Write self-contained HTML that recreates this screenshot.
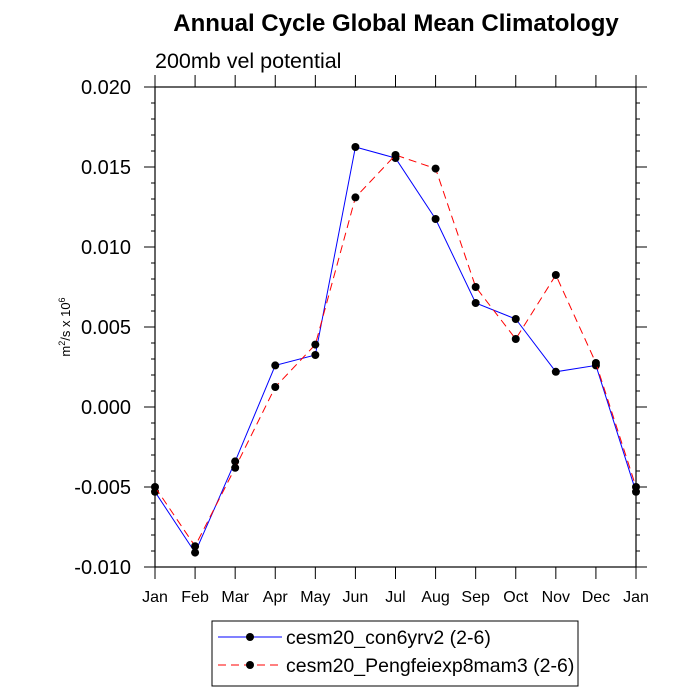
<!DOCTYPE html>
<html><head><meta charset="utf-8"><style>body{margin:0;background:#fff}svg{display:block;font-family:"Liberation Sans",sans-serif}</style></head>
<body>
<svg id="c" width="700" height="700">
<text x="396" y="31" text-anchor="middle" font-size="24" font-weight="bold">Annual Cycle Global Mean Climatology</text>
<text x="155" y="68" font-size="21.5">200mb vel potential</text>
<text transform="translate(70,327) rotate(-90)" text-anchor="middle" font-size="13">m<tspan dy="-5" font-size="9">2</tspan><tspan dy="5">/s x 10</tspan><tspan dy="-5" font-size="9">6</tspan></text>
<g id="axes"></g><g id="series"></g>
<g>
<rect x="212" y="621" width="366" height="65" fill="none" stroke="#000" stroke-width="1"/>
<line x1="218" y1="637" x2="282" y2="637" stroke="#00f" stroke-width="1"/><circle cx="250" cy="637" r="4"/>
<text x="286" y="644" font-size="19.5">cesm20_con6yrv2 (2-6)</text>
<line x1="218" y1="665" x2="282" y2="665" stroke="#f00" stroke-width="1" stroke-dasharray="8,5"/><circle cx="250" cy="665" r="4"/>
<text x="286" y="672" font-size="19.5">cesm20_Pengfeiexp8mam3 (2-6)</text>
</g>
</svg>
<script>
const months=["Jan","Feb","Mar","Apr","May","Jun","Jul","Aug","Sep","Oct","Nov","Dec","Jan"];
const yTicks=[-0.010,-0.005,0.000,0.005,0.010,0.015,0.020];
const yTickLabels=["-0.010","-0.005","0.000","0.005","0.010","0.015","0.020"];
const seriesA=[-0.0053,-0.0091,-0.0034,0.0026,0.00325,0.01625,0.01556,0.01175,0.0065,0.0055,0.0022,0.0026,-0.0053];
const seriesB=[-0.005,-0.0087,-0.0038,0.00125,0.0039,0.0131,0.01575,0.0149,0.0075,0.00425,0.00825,0.00275,-0.005];
const L=155,R=636,T=87,B=567,ymin=-0.010,ymax=0.020;
const X=i=>L+i*(R-L)/(months.length-1);
const Y=v=>B-(v-ymin)/(ymax-ymin)*(B-T);
const NS="http://www.w3.org/2000/svg";
function mk(t,a,p){const e=document.createElementNS(NS,t);for(const k in a)e.setAttribute(k,a[k]);p.appendChild(e);return e;}
const ax=document.getElementById('axes');
const fr=mk('rect',{x:L,y:T,width:R-L,height:B-T,fill:'none',stroke:'#000','stroke-width':1.2},ax);


months.forEach((m,i)=>{
  const x=X(i);
  mk('line',{x1:x,y1:B,x2:x,y2:B+12,stroke:'#000'},ax);
  mk('line',{x1:x,y1:T,x2:x,y2:T-12,stroke:'#000'},ax);
  const t=mk('text',{x:x,y:B+35,'text-anchor':'middle','font-size':16},ax);t.textContent=m;
  
  
});
for(let v=ymin;v<=ymax+1e-9;v+=0.001){
  const y=Y(v);const major=Math.abs(Math.round(v*1000)%5)===0;const len=major?11:4;
  mk('line',{x1:L,y1:y,x2:L-len,y2:y,stroke:'#000'},ax);
  mk('line',{x1:R,y1:y,x2:R+len,y2:y,stroke:'#000'},ax);
}
yTicks.forEach((v,i)=>{
  const t=mk('text',{x:L-24,y:Y(v)+7,'text-anchor':'end','font-size':20},ax);t.textContent=yTickLabels[i];
  
  
});
const sg=document.getElementById('series');
function draw(d,col,dash,name){
  const g=mk('g',{},sg);
  
  
  const a={points:d.map((v,i)=>X(i)+','+Y(v)).join(' '),fill:'none',stroke:col,'stroke-width':1};
  if(dash)a['stroke-dasharray']=dash;
  mk('polyline',a,g);
  d.forEach((v,i)=>{const c=mk('circle',{cx:X(i),cy:Y(v),r:4,fill:'#000'},g);
    
    });
}
draw(seriesA,'#00f',null,'series-con6yrv2');
draw(seriesB,'#f00','8,5','series-pengfeiexp8mam3');
</script>
</body></html>
